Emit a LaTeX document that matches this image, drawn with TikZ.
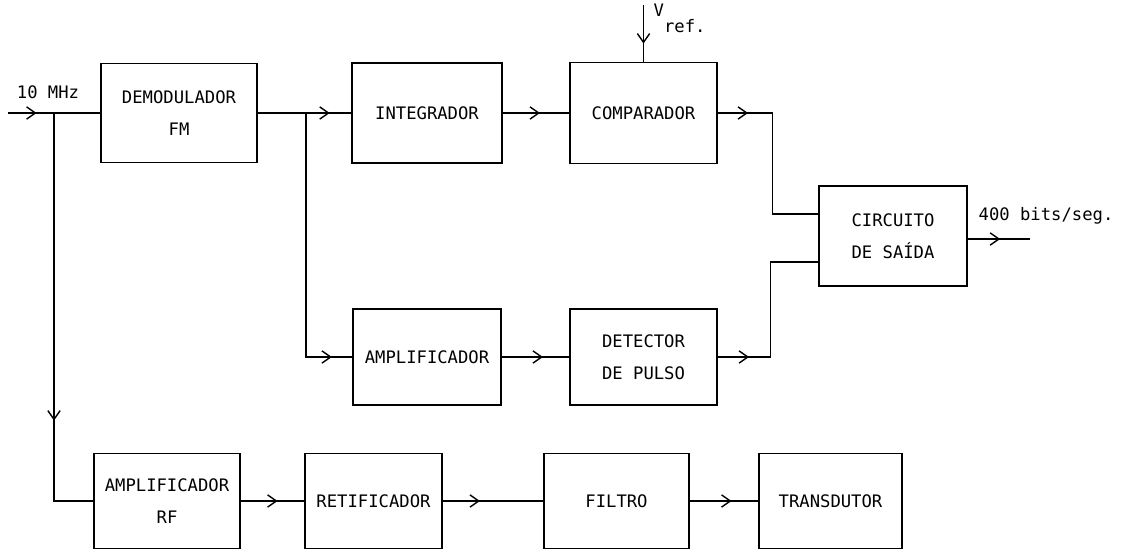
\documentclass[tikz,border=0pt]{standalone}
\usepackage{fontspec}
\setmonofont{DejaVu Sans Mono}
\usetikzlibrary{arrows.meta,decorations.markings}
\begin{document}
\begin{tikzpicture}[x=0.02cm, y=-0.02cm, line width=0.8pt,
  blk/.style={draw, line width=0.9pt, inner sep=0pt, align=center, font=\ttfamily\fontsize{9.8}{18}\selectfont},
  lbl/.style={font=\ttfamily\fontsize{9.8}{12}\selectfont, inner sep=0pt},
  fl/.style={postaction={decorate}, decoration={markings, mark=at position #1 with {\arrow{Straight Barb[length=5pt,width=7pt]}}}}]
  \useasboundingbox (0,0) rectangle (1128,551);
  % upper chain
  \node[blk, minimum width=3.12cm, minimum height=1.98cm] (dem) at (179,113) {DEMODULADOR\\FM};
  \node[blk, minimum width=3.0cm, minimum height=2.0cm] (integ) at (427,113) {INTEGRADOR};
  \node[blk, minimum width=2.94cm, minimum height=2.02cm] (comp) at (643.5,113) {COMPARADOR};
  \node[blk, minimum width=2.96cm, minimum height=2.0cm] (circ) at (893,236) {CIRCUITO\\DE SAÍDA};
  % middle chain
  \node[blk, minimum width=2.96cm, minimum height=1.92cm] (ampl) at (427,357) {AMPLIFICADOR};
  \node[blk, minimum width=2.94cm, minimum height=1.92cm] (det) at (643.5,357) {DETECTOR\\DE PULSO};
  % lower chain
  \node[blk, minimum width=2.92cm, minimum height=1.9cm] (amprf) at (167,501) {AMPLIFICADOR\\RF};
  \node[blk, minimum width=2.74cm, minimum height=1.9cm] (ret) at (373.5,501) {RETIFICADOR};
  \node[blk, minimum width=2.9cm, minimum height=1.9cm] (filt) at (616.5,501) {FILTRO};
  \node[blk, minimum width=2.86cm, minimum height=1.9cm] (trans) at (830.5,501) {TRANSDUTOR};
  % labels
  \node[lbl] (mhz) at (48,92) {10 MHz};
  \node[lbl] (bits) at (1046,216) {400 bits/seg.};
  \node[lbl, anchor=west] (vref) at (653,18) {V\raisebox{-1.7ex}{ref.}};
  \coordinate (in) at (8,113);
  \coordinate (j1) at (54,113);
  \coordinate (j2) at (306,113);
  \coordinate (vtop) at (643.5,5);
  \coordinate (out) at (1030,239);
  % connectors
  \draw[fl=0.31] (in) -- (dem);
  \draw[fl=0.77] (dem) -- (integ);
  \draw[fl=0.56] (integ) -- (comp);
  \draw[fl=0.68] (vtop) -- (comp.north);
  \draw[fl=0.15] (comp.east) -- ++(55,0) |- ([yshift=0.44cm]circ.west);
  \draw[fl=0.93] (j2) |- (ampl.west);
  \draw[fl=0.61] (ampl) -- (det);
  \draw[fl=0.16] (det.east) -- ++(53,0) |- ([yshift=-0.52cm]circ.west);
  \draw[fl=0.52] (circ.east |- out) -- (out);
  \draw[fl=0.72] (j1) |- (amprf.west);
  \draw[fl=0.58] (amprf) -- (ret);
  \draw[fl=0.37] (ret) -- (filt);
  \draw[fl=0.61] (filt) -- (trans);
\end{tikzpicture}
\end{document}
